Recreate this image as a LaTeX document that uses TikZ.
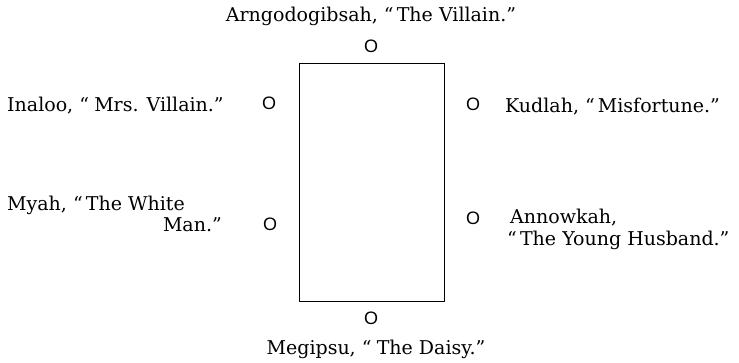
\documentclass[tikz,border=0pt]{standalone}
\usepackage{fontspec}
\setmainfont{DejaVu Serif}
\newfontfamily\osans{Liberation Sans}
\begin{document}
\begin{tikzpicture}[x=1pt,y=-1pt,
  lbl/.style={inner sep=0pt, font=\fontsize{19}{21}\selectfont},
  seat/.style={inner sep=0pt, font=\osans\fontsize{18}{18}\selectfont}]
\useasboundingbox[fill=white] (0,0) rectangle (739,363);
\draw[line width=1pt] (299,64) rectangle (444,302);
% seats
\node[seat] (otop) at (371,46) {O};
\node[seat] (obot) at (371,318) {O};
\node[seat] (ol1) at (269,103.5) {O};
\node[seat] (ol2) at (270,224) {O};
\node[seat] (or1) at (473,104) {O};
\node[seat] (or2) at (473,218) {O};
% labels
\node[lbl, anchor=base] (ttop) at (371,22) {Arngodogibsah, ``\,The Villain.''};
\node[lbl, anchor=base] (tbot) at (376,354) {Megipsu, ``\;The Daisy.''};
\node[lbl, anchor=base west] (tl1) at (7,112) {Inaloo, ``\;Mrs. Villain.''};
\node[lbl, anchor=base west] (tl2a) at (7,211) {Myah, ``\,The White};
\node[lbl, anchor=base east] (tl2b) at (222,232) {Man.''};
\node[lbl, anchor=base west] (tr1) at (505,113) {Kudlah, ``\,Misfortune.''};
\node[lbl, anchor=base west] (tr2a) at (510,224) {Annowkah,};
\node[lbl, anchor=base west] (tr2b) at (507,246) {``\,The Young Husband.''};
\end{tikzpicture}
\end{document}
